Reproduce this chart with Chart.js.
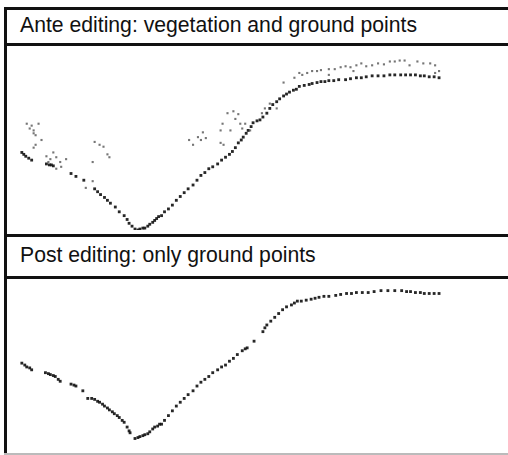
<!DOCTYPE html>
<html>
<head>
<meta charset="utf-8">
<script src="https://cdn.jsdelivr.net/npm/chart.js@4.4.1/dist/chart.umd.min.js"></script>
<style>
  body { margin: 0; background: #fff; width: 508px; height: 455px; overflow: hidden; position: relative; }
  .line { position: absolute; background: #111; }
  .head { position: absolute; left: 20px; font: 21.2px "Liberation Sans", Arial, sans-serif; color: #111; white-space: nowrap; }
  canvas { position: absolute; left: 7px; }
</style>
</head>
<body>
<div class="line" style="left:4px;top:7px;width:510px;height:3px"></div>
<div class="line" style="left:4px;top:7px;width:3px;height:448px"></div>
<div class="head" style="top:13px">Ante editing: vegetation and ground points</div>
<div class="line" style="left:4px;top:43px;width:510px;height:3px"></div>
<canvas id="ante" width="501" height="188" style="top:46px"></canvas>
<div class="line" style="left:4px;top:234px;width:510px;height:3px"></div>
<div class="head" style="top:243px">Post editing: only ground points</div>
<div class="line" style="left:4px;top:276px;width:510px;height:3px"></div>
<canvas id="post" width="501" height="174" style="top:279px"></canvas>
<div class="line" style="left:4px;top:453px;width:510px;height:2px;background:#bbb"></div>

<script>
// profile distance along the section and height above the lowest point
const anteGround = [
  [11,81],[13,79],[15,77],[18,75],[21,73],[36,69],[39,68],[41,68],[43,67],[61,59],[66,56],[74,52],
  [85,43],[88,40],[91,37],[95,34],[98,31],[101,28],[106,24],[110,19],[115,15],[118,11],[120,7],[123,4],
  [126,1],[129,0],[131,1],[134,2],[136,2],[139,4],[141,6],[144,8],[146,10],[148,12],[150,14],[153,15],
  [156,19],[160,22],[164,26],[168,31],[172,35],[176,39],[180,43],[185,47],[189,52],[193,57],[197,60],
  [201,64],[205,66],[210,69],[214,73],[218,76],[222,79],[225,82],[228,86],[231,91],[234,94],[236,97],
  [239,101],[241,104],[244,108],[246,112],[250,114],[253,115],[256,118],[260,122],[263,127],[266,131],
  [270,134],[273,137],[277,140],[280,142],[283,144],[287,146],[290,147],[293,150],[298,151],[303,152],
  [306,153],[311,154],[315,155],[319,155],[323,156],[328,156],[333,157],[340,157],[345,158],[351,159],
  [356,159],[361,160],[367,161],[373,161],[379,161],[385,162],[390,162],[396,162],[401,162],[406,162],
  [411,162],[416,161],[420,161],[425,160],[430,160],[435,159]
]

const anteVegetation = [
  [16,111],[21,109],[28,111],[23,104],[23,101],[25,99],[31,94],[25,89],[23,86],[19,106],
  [36,77],[43,81],[40,74],[46,76],[50,71],[51,66],[56,74],[46,64],[38,71],
  [85,92],[90,89],[94,87],[98,79],[100,76],[83,71],[83,51],[76,44],
  [181,94],[190,97],[193,94],[195,102],[185,89],[198,96],
  [220,122],[226,124],[231,121],[215,111],[213,104],[223,104],[233,111],[238,111],[213,91],[216,89],
  [243,104],[228,116],[235,106],[258,127],[263,132],[270,127],[255,122],
  [288,159],[293,164],[296,162],[301,164],[306,166],[311,166],[315,167],[323,168],[329,168],[335,170],
  [340,171],[345,170],[351,172],[356,174],[361,171],[367,172],[373,174],[379,173],[385,176],[390,176],
  [395,177],[400,177],[405,172],[413,176],[419,174],[426,174],[431,172],[435,166],[431,164],[323,162],
  [348,166],[277,154]
]

const postGround = [
  [11,90],[14,88],[16,86],[19,85],[21,83],[35,80],[38,79],[40,78],[43,77],[45,76],[48,73],[50,71],
  [61,68],[64,67],[66,66],[73,61],[78,53],[82,53],[85,52],[88,50],[90,49],[93,47],[95,45],[98,43],
  [100,41],[103,39],[105,37],[108,35],[110,33],[113,30],[115,28],[118,23],[120,19],[121,17],[126,11],
  [129,12],[131,13],[134,14],[136,15],[139,16],[141,18],[144,21],[146,23],[149,24],[151,26],[153,26],
  [156,30],[160,35],[164,40],[168,45],[172,49],[176,53],[180,57],[185,61],[189,66],[193,70],[197,73],
  [201,76],[205,80],[210,83],[214,86],[218,88],[222,92],[226,95],[230,99],[235,103],[238,105],[240,106],
  [247,113],[256,123],[258,127],[260,130],[264,134],[268,138],[272,142],[276,146],[280,149],[285,151],[288,153],
  [291,155],[295,155],[300,156],[305,157],[309,158],[313,159],[318,160],[323,160],[330,161],[335,162],
  [341,163],[346,163],[351,164],[357,164],[363,164],[369,165],[376,166],[383,166],[390,166],[397,166],
  [402,165],[406,165],[411,164],[416,164],[420,163],[425,163],[430,163],[435,163]
]

const toPoints = arr => arr.map(p => ({ x: p[0], y: p[1] }))

function profileChart (id, sets, yMax) {
  return new Chart(document.getElementById(id), {
    type: 'scatter',
    data: {
      datasets: sets.map(s => ({
        label: s.label,
        data: toPoints(s.data),
        pointStyle: 'rect',
        pointRadius: s.radius,
        backgroundColor: s.color,
        borderWidth: 0
      }))
    },
    options: {
      responsive: false,
      animation: false,
      layout: { padding: 0 },
      plugins: { legend: { display: false }, tooltip: { enabled: false } },
      scales: {
        x: { type: 'linear', min: 0, max: 501, display: false },
        y: { type: 'linear', min: 0, max: yMax, display: false }
      }
    }
  })
}

profileChart('ante', [
  { label: 'Vegetation', data: anteVegetation, radius: 1.5, color: 'rgba(60,60,60,0.7)' },
  { label: 'Ground', data: anteGround, radius: 2, color: 'rgba(15,15,15,0.9)' }
], 188)

profileChart('post', [
  { label: 'Ground', data: postGround, radius: 2, color: 'rgba(15,15,15,0.9)' }
], 174)
</script>
</body>
</html>
